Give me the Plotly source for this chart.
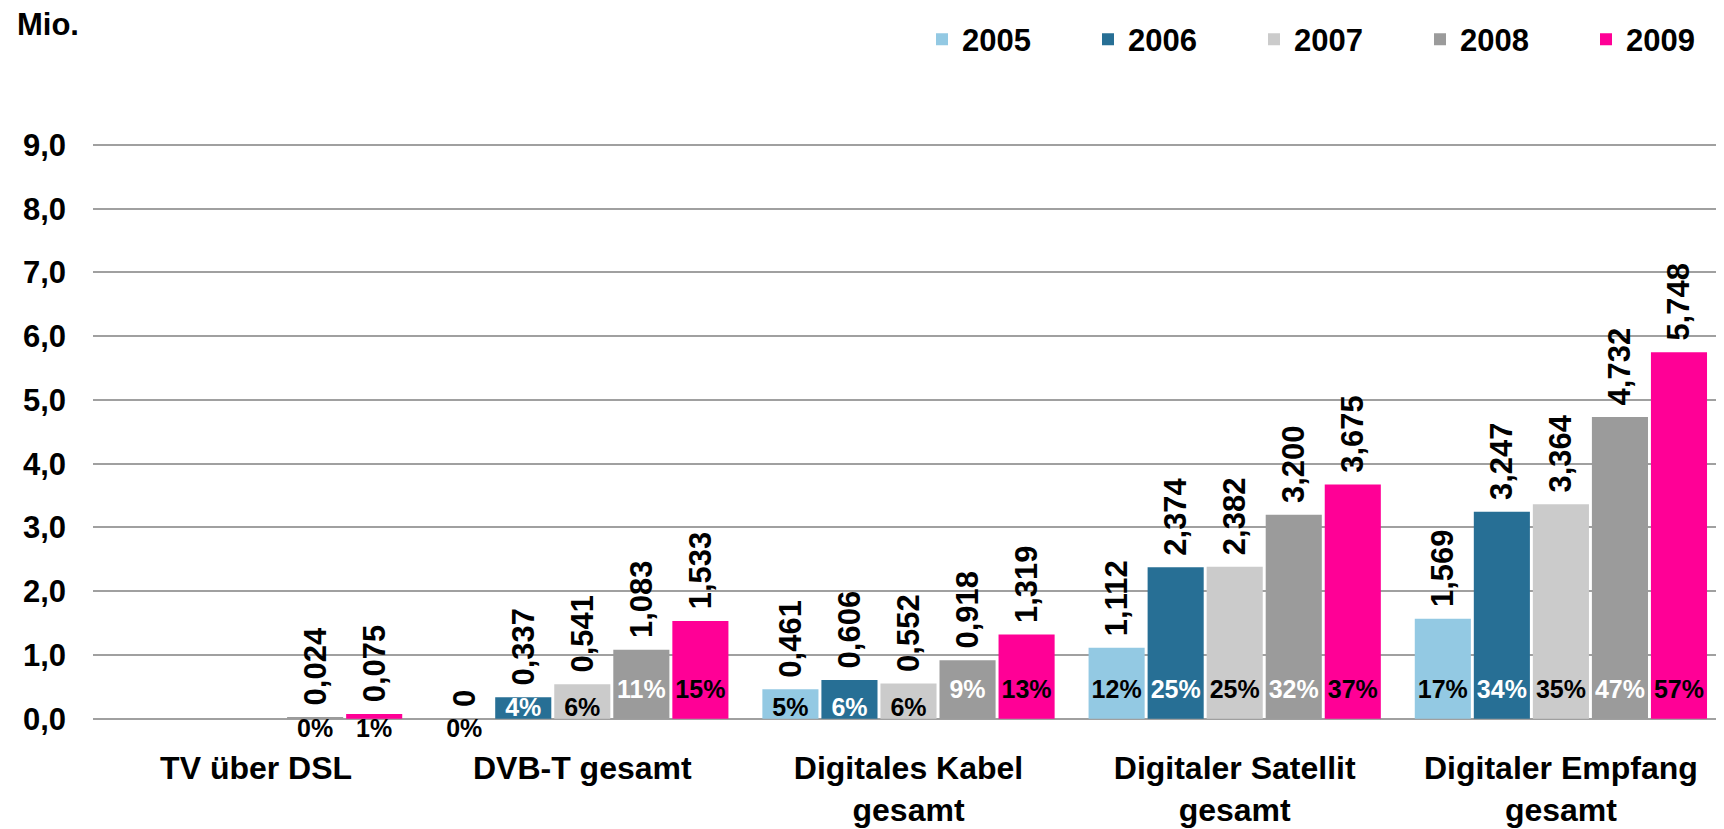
import plotly.graph_objects as go

# ---------------- data ----------------
categories = [
    "TV über DSL",
    "DVB-T gesamt",
    "Digitales Kabel<br>gesamt",
    "Digitaler Satellit<br>gesamt",
    "Digitaler Empfang<br>gesamt",
]
years = ["2005", "2006", "2007", "2008", "2009"]

# millions of households
v2005 = [None, 0.0, 0.461, 1.112, 1.569]
v2006 = [None, 0.337, 0.606, 2.374, 3.247]
v2007 = [None, 0.541, 0.552, 2.382, 3.364]
v2008 = [0.024, 1.083, 0.918, 3.200, 4.732]
v2009 = [0.075, 1.533, 1.319, 3.675, 5.748]

# share in percent
p2005 = [None, 0, 5, 12, 17]
p2006 = [None, 4, 6, 25, 34]
p2007 = [None, 6, 6, 25, 35]
p2008 = [0, 11, 9, 32, 47]
p2009 = [1, 15, 13, 37, 57]

y_ticks = [0, 1, 2, 3, 4, 5, 6, 7, 8, 9]

values = [v2005, v2006, v2007, v2008, v2009]
percents = [p2005, p2006, p2007, p2008, p2009]

# ---------------- styles ----------------
colors = ["#93C9E3", "#276F95", "#CBCBCB", "#9B9B9B", "#FF0096"]
pct_on_dark = [False, True, False, True, False]
FONT = "Arial, 'Liberation Sans', Helvetica, sans-serif"
PCT_Y = 0.42      # label centre for tall bars (data units)
PCT_Y_LOW = 0.14  # label centre for short bars
PCT_Y_BELOW = -0.19  # label centre below the axis for ~zero bars
SHORT_BAR = 0.75
ZERO_BAR = 0.1
Y_MIN, Y_MAX = -0.35, 9.03

# page is offset by the default 8px body margin
W, H = 1716, 821
ML, MT = 85, 135
PLOT_H = 598
MB = H - MT - PLOT_H


def fmt_val(v):
    if v is None:
        return None
    if v == 0:
        return "\u00a00"
    return "\u00a0" + f"{v:.3f}".replace(".", ",")


fig = go.Figure()

for yr, vals, col in zip(years, values, colors):
    fig.add_trace(go.Bar(
        name=yr, x=categories, y=vals,
        marker=dict(color=col, line=dict(width=0)),
        text=[fmt_val(v) for v in vals],
        textposition="outside", textangle=-90,
        textfont=dict(family=FONT, size=31, color="black", weight="bold"),
        constraintext="none", cliponaxis=False,
        offsetgroup=yr, hoverinfo="skip",
    ))

for yr, vals, pcts, dark in zip(years, values, percents, pct_on_dark):
    ys, txt, tcol = [], [], []
    for v, p in zip(vals, pcts):
        if p is None or v is None:
            ys.append(None); txt.append(None); tcol.append("black")
            continue
        if v < ZERO_BAR:
            ys.append(PCT_Y_BELOW); tcol.append("black")
        elif v < SHORT_BAR:
            ys.append(PCT_Y_LOW); tcol.append("white" if dark else "black")
        else:
            ys.append(PCT_Y); tcol.append("white" if dark else "black")
        txt.append(f"{p}%")
    fig.add_trace(go.Scatter(
        x=categories, y=ys, mode="text", text=txt,
        textposition="middle center",
        textfont=dict(family=FONT, size=25, color=tcol, weight="bold"),
        offsetgroup=yr, cliponaxis=False, showlegend=False, hoverinfo="skip",
    ))

fig.update_layout(
    width=W, height=H,
    margin=dict(l=ML, r=0, t=MT, b=MB),
    plot_bgcolor="white", paper_bgcolor="white",
    barmode="group", bargap=0.095, bargroupgap=0.05,
    scattermode="group",
    separators=",.",
    font=dict(family=FONT, size=31, color="black", weight="bold"),
    legend=dict(
        orientation="h", xref="container", yref="container",
        x=914 / W, xanchor="left", y=1 - 4.5 / H, yanchor="top",
        font=dict(family=FONT, size=31, color="black", weight="bold"),
        entrywidth=121, entrywidthmode="pixels", traceorder="normal",
        bgcolor="rgba(0,0,0,0)", borderwidth=0,
    ),
    xaxis=dict(
        type="category", showgrid=False, showline=False, ticks="",
        tickfont=dict(family=FONT, size=32, color="black", weight="bold"),
        ticklabelstandoff=5, fixedrange=True,
    ),
    yaxis=dict(
        range=[Y_MIN, Y_MAX], tickvals=y_ticks, tickformat=".1f",
        showgrid=True, gridcolor="#A0A0A0", gridwidth=2,
        zeroline=True, zerolinecolor="#A0A0A0", zerolinewidth=2,
        showline=False, ticks="",
        tickfont=dict(family=FONT, size=31, color="black", weight="bold"),
        ticklabelstandoff=26, fixedrange=True,
    ),
    annotations=[dict(
        text="Mio.", xref="paper", yref="paper",
        x=(7 - ML) / (W - ML), y=(MT + PLOT_H - 17) / PLOT_H,
        xanchor="left", yanchor="middle", showarrow=False,
        font=dict(family=FONT, size=31, color="black", weight="bold"),
    )],
)

fig.write_html("out.html")
